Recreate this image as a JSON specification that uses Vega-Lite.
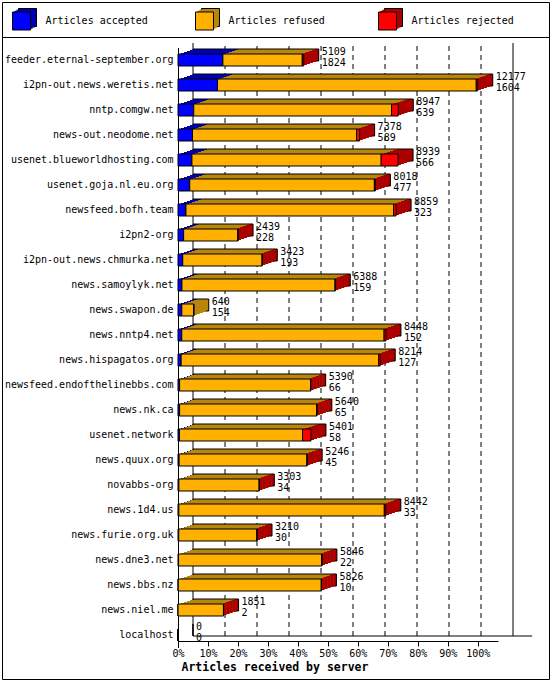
{
  "$schema": "https://vega.github.io/schema/vega-lite/v6.json",
  "padding": 1,
  "spacing": 0,
  "bounds": "flush",
  "background": "white",
  "config": {
    "font": "DejaVu Sans Mono",
    "view": {"stroke": "black", "strokeWidth": 1},
    "axis": {"grid": false, "domainColor": "black", "tickColor": "black", "labelColor": "black", "titleColor": "black"},
    "legend": {"disable": true}
  },
  "datasets": {
    "servers": [
      {"server": "feeder.eternal-september.org", "total": 5109, "accepted": 1824, "refused": 3225, "rejected": 60},
      {"server": "i2pn-out.news.weretis.net", "total": 12177, "accepted": 1604, "refused": 10513, "rejected": 60},
      {"server": "nntp.comgw.net", "total": 8947, "accepted": 639, "refused": 8038, "rejected": 270},
      {"server": "news-out.neodome.net", "total": 7378, "accepted": 589, "refused": 6664, "rejected": 125},
      {"server": "usenet.blueworldhosting.com", "total": 8939, "accepted": 566, "refused": 7688, "rejected": 685},
      {"server": "usenet.goja.nl.eu.org", "total": 8018, "accepted": 477, "refused": 7501, "rejected": 40},
      {"server": "newsfeed.bofh.team", "total": 8859, "accepted": 323, "refused": 8436, "rejected": 100},
      {"server": "i2pn2-org", "total": 2439, "accepted": 228, "refused": 2206, "rejected": 5},
      {"server": "i2pn-out.news.chmurka.net", "total": 3423, "accepted": 193, "refused": 3225, "rejected": 5},
      {"server": "news.samoylyk.net", "total": 6388, "accepted": 159, "refused": 6224, "rejected": 5},
      {"server": "news.swapon.de", "total": 640, "accepted": 154, "refused": 486, "rejected": 0},
      {"server": "news.nntp4.net", "total": 8448, "accepted": 152, "refused": 8221, "rejected": 75},
      {"server": "news.hispagatos.org", "total": 8214, "accepted": 127, "refused": 8027, "rejected": 60},
      {"server": "newsfeed.endofthelinebbs.com", "total": 5390, "accepted": 66, "refused": 5319, "rejected": 5},
      {"server": "news.nk.ca", "total": 5640, "accepted": 65, "refused": 5570, "rejected": 5},
      {"server": "usenet.network", "total": 5401, "accepted": 58, "refused": 5003, "rejected": 340},
      {"server": "news.quux.org", "total": 5246, "accepted": 45, "refused": 5196, "rejected": 5},
      {"server": "novabbs-org", "total": 3303, "accepted": 34, "refused": 3264, "rejected": 5},
      {"server": "news.1d4.us", "total": 8442, "accepted": 33, "refused": 8349, "rejected": 60},
      {"server": "news.furie.org.uk", "total": 3210, "accepted": 30, "refused": 3175, "rejected": 5},
      {"server": "news.dne3.net", "total": 5846, "accepted": 22, "refused": 5819, "rejected": 5},
      {"server": "news.bbs.nz", "total": 5826, "accepted": 10, "refused": 5811, "rejected": 5},
      {"server": "news.niel.me", "total": 1851, "accepted": 2, "refused": 1844, "rejected": 5},
      {"server": "localhost", "total": 0, "accepted": 0, "refused": 0, "rejected": 0}
    ],
    "grid": [
      {"p": 0}, {"p": 10}, {"p": 20}, {"p": 30}, {"p": 40}, {"p": 50},
      {"p": 60}, {"p": 70}, {"p": 80}, {"p": 90}, {"p": 100}
    ],
    "kinds": [
      {"kind": "accepted", "label": "Articles accepted"},
      {"kind": "refused", "label": "Articles refused"},
      {"kind": "rejected", "label": "Articles rejected"}
    ]
  },
  "vconcat": [
    {
      "width": 547,
      "height": 35,
      "data": {"name": "kinds"},
      "encoding": {
        "x": {
          "field": "kind", "type": "nominal", "bandPosition": 0,
          "scale": {"type": "band", "domain": ["accepted", "refused", "rejected"], "range": [9.5, 558.5], "paddingInner": 0, "paddingOuter": 0},
          "axis": null
        }
      },
      "layer": [
        {
          "mark": {"type": "square", "size": 324, "filled": true, "opacity": 1, "xOffset": 16, "yOffset": -2, "stroke": "black", "strokeWidth": 1},
          "encoding": {"fill": {"field": "kind", "type": "nominal", "scale": {"domain": ["accepted", "refused", "rejected"], "range": ["#0000b0", "#b8860b", "#aa0000"]}, "legend": null}}
        },
        {
          "mark": {"type": "square", "size": 324, "filled": true, "opacity": 1, "xOffset": 14, "yOffset": -0.8, "strokeWidth": 0},
          "encoding": {"fill": {"field": "kind", "type": "nominal", "legend": null}}
        },
        {
          "mark": {"type": "square", "size": 324, "filled": true, "opacity": 1, "xOffset": 12, "yOffset": 0.3, "strokeWidth": 0},
          "encoding": {"fill": {"field": "kind", "type": "nominal", "legend": null}}
        },
        {
          "mark": {"type": "square", "size": 324, "filled": true, "opacity": 1, "xOffset": 10, "yOffset": 1.5, "stroke": "black", "strokeWidth": 1},
          "encoding": {"color": {"field": "kind", "type": "nominal", "scale": {"domain": ["accepted", "refused", "rejected"], "range": ["#0000ff", "#ffb000", "#ff0000"]}, "legend": null}}
        },
        {
          "mark": {"type": "text", "align": "left", "baseline": "middle", "xOffset": 34, "yOffset": 1.5, "fontSize": 10, "color": "black"},
          "encoding": {"text": {"field": "label", "type": "nominal"}}
        }
      ]
    },
    {
      "width": 547,
      "height": 642,
      "resolve": {"scale": {"x": "independent", "y": "independent"}},
      "layer": [
        {
          "data": {"name": "grid"},
          "encoding": {
            "y": {"datum": 0, "type": "quantitative", "scale": {"domain": [0, 1], "range": [599, 6]}, "axis": null}
          },
          "layer": [
            {
              "transform": [{"filter": "datum.p > 0 && datum.p < 100"}],
              "mark": {"type": "rule", "color": "black", "strokeWidth": 1, "strokeDash": [5, 4]},
              "encoding": {
                "x": {"field": "p", "type": "quantitative", "scale": {"domain": [0, 100], "range": [191, 511]}, "axis": null},
                "y2": {"datum": 1}
              }
            },
            {
              "transform": [{"filter": "datum.p == 0 || datum.p == 100"}],
              "mark": {"type": "rule", "color": "black", "strokeWidth": 1},
              "encoding": {
                "x": {"field": "p", "type": "quantitative", "scale": {"domain": [0, 100], "range": [191, 511]}, "axis": null},
                "y2": {"datum": 1}
              }
            },
            {
              "transform": [{"filter": "datum.p == 0"}],
              "mark": {"type": "rule", "color": "black", "strokeWidth": 1},
              "encoding": {
                "x": {"field": "p", "type": "quantitative", "scale": {"domain": [0, 100], "range": [191, 511]}, "axis": null},
                "x2": {"datum": 106}
              }
            }
          ]
        },
        {
          "data": {"name": "servers"},
          "transform": [{"fold": ["accepted", "refused", "rejected"], "as": ["kind", "n"]}],
          "encoding": {
            "y": {
              "field": "server", "type": "nominal",
              "scale": {
                "domain": [
                  "feeder.eternal-september.org", "i2pn-out.news.weretis.net", "nntp.comgw.net", "news-out.neodome.net",
                  "usenet.blueworldhosting.com", "usenet.goja.nl.eu.org", "newsfeed.bofh.team", "i2pn2-org",
                  "i2pn-out.news.chmurka.net", "news.samoylyk.net", "news.swapon.de", "news.nntp4.net",
                  "news.hispagatos.org", "newsfeed.endofthelinebbs.com", "news.nk.ca", "usenet.network",
                  "news.quux.org", "novabbs-org", "news.1d4.us", "news.furie.org.uk",
                  "news.dne3.net", "news.bbs.nz", "news.niel.me", "localhost"
                ],
                "range": [10.5, 610.5], "paddingInner": 0.52, "paddingOuter": 0.26
              },
              "axis": {"title": null, "offset": -176, "ticks": false, "labelPadding": 5, "labelFontSize": 10, "labelLimit": 200}
            }
          },
          "layer": [
            {
              "mark": {"type": "bar", "xOffset": 15, "yOffset": -5},
              "encoding": {
                "x": {"field": "n", "type": "quantitative", "stack": "zero", "scale": {"domain": [0, 12177], "range": [176, 496]}},
                "fill": {"field": "kind", "type": "nominal", "scale": {"domain": ["accepted", "refused", "rejected"], "range": ["#0000b0", "#b8860b", "#aa0000"]}, "legend": null}
              }
            },
            {
              "transform": [{"filter": "datum.kind == 'rejected'"}],
              "mark": {"type": "bar", "xOffset": 11, "x2Offset": 15, "yOffset": -5},
              "encoding": {
                "x": {"field": "total", "type": "quantitative"},
                "x2": {"field": "total"},
                "fill": {"condition": [{"test": "datum.total == 0", "value": "transparent"}, {"test": "datum.rejected > 0", "value": "#aa0000"}], "value": "#b8860b"}
              }
            },
            {
              "transform": [{"filter": "datum.kind == 'rejected'"}],
              "mark": {"type": "bar", "xOffset": 15, "yOffset": -5, "fillOpacity": 0, "stroke": "black", "strokeWidth": 1},
              "encoding": {
                "x": {"field": "total", "type": "quantitative"}
              }
            },
            {
              "mark": {"type": "bar", "xOffset": 12, "yOffset": -4},
              "encoding": {
                "x": {"field": "n", "type": "quantitative", "stack": "zero"},
                "fill": {"field": "kind", "type": "nominal", "legend": null}
              }
            },
            {
              "transform": [{"filter": "datum.kind == 'rejected'"}],
              "mark": {"type": "bar", "xOffset": 8, "x2Offset": 12, "yOffset": -4},
              "encoding": {
                "x": {"field": "total", "type": "quantitative"},
                "x2": {"field": "total"},
                "fill": {"condition": [{"test": "datum.total == 0", "value": "transparent"}, {"test": "datum.rejected > 0", "value": "#aa0000"}], "value": "#b8860b"}
              }
            },
            {
              "mark": {"type": "bar", "xOffset": 9, "yOffset": -3},
              "encoding": {
                "x": {"field": "n", "type": "quantitative", "stack": "zero"},
                "fill": {"field": "kind", "type": "nominal", "legend": null}
              }
            },
            {
              "transform": [{"filter": "datum.kind == 'rejected'"}],
              "mark": {"type": "bar", "xOffset": 5, "x2Offset": 9, "yOffset": -3},
              "encoding": {
                "x": {"field": "total", "type": "quantitative"},
                "x2": {"field": "total"},
                "fill": {"condition": [{"test": "datum.total == 0", "value": "transparent"}, {"test": "datum.rejected > 0", "value": "#aa0000"}], "value": "#b8860b"}
              }
            },
            {
              "mark": {"type": "bar", "xOffset": 6, "yOffset": -2},
              "encoding": {
                "x": {"field": "n", "type": "quantitative", "stack": "zero"},
                "fill": {"field": "kind", "type": "nominal", "legend": null}
              }
            },
            {
              "transform": [{"filter": "datum.kind == 'rejected'"}],
              "mark": {"type": "bar", "xOffset": 2, "x2Offset": 6, "yOffset": -2},
              "encoding": {
                "x": {"field": "total", "type": "quantitative"},
                "x2": {"field": "total"},
                "fill": {"condition": [{"test": "datum.total == 0", "value": "transparent"}, {"test": "datum.rejected > 0", "value": "#aa0000"}], "value": "#b8860b"}
              }
            },
            {
              "mark": {"type": "bar", "xOffset": 3, "yOffset": -1},
              "encoding": {
                "x": {"field": "n", "type": "quantitative", "stack": "zero"},
                "fill": {"field": "kind", "type": "nominal", "legend": null}
              }
            },
            {
              "transform": [{"filter": "datum.kind == 'rejected'"}],
              "mark": {"type": "bar", "xOffset": 0, "x2Offset": 3, "yOffset": -1},
              "encoding": {
                "x": {"field": "total", "type": "quantitative"},
                "x2": {"field": "total"},
                "fill": {"condition": [{"test": "datum.total == 0", "value": "transparent"}, {"test": "datum.rejected > 0", "value": "#aa0000"}], "value": "#b8860b"}
              }
            },
            {
              "mark": {"type": "bar", "stroke": "black", "strokeWidth": 1},
              "encoding": {
                "x": {
                  "field": "n", "type": "quantitative", "stack": "zero",
                  "axis": {
                    "title": "Articles received by server",
                    "values": [0, 1217.7, 2435.4, 3653.1, 4870.8, 6088.5, 7306.2, 8523.9, 9741.6, 10959.3, 12177],
                    "labelExpr": "round(datum.value / 121.77) + '%'",
                    "offset": -38, "tickSize": 5, "labelPadding": 2, "labelFontSize": 10,
                    "labelFlush": false, "labelOverlap": false,
                    "titleFontSize": 11.5, "titleFontWeight": "bold",
                    "titleX": 179, "titleY": 26, "titleAlign": "left", "titleBaseline": "middle"
                  }
                },
                "color": {"field": "kind", "type": "nominal", "scale": {"domain": ["accepted", "refused", "rejected"], "range": ["#0000ff", "#ffb000", "#ff0000"]}, "legend": null}
              }
            },
            {
              "transform": [{"filter": "datum.kind == 'rejected'"}],
              "mark": {"type": "text", "align": "left", "baseline": "middle", "dx": 18, "dy": -8.5, "fontSize": 10, "color": "black"},
              "encoding": {
                "x": {"field": "total", "type": "quantitative"},
                "text": {"field": "total", "type": "quantitative", "format": "d"}
              }
            },
            {
              "transform": [{"filter": "datum.kind == 'rejected'"}],
              "mark": {"type": "text", "align": "left", "baseline": "middle", "dx": 18, "dy": 2.5, "fontSize": 10, "color": "black"},
              "encoding": {
                "x": {"field": "total", "type": "quantitative"},
                "text": {"field": "accepted", "type": "quantitative", "format": "d"}
              }
            }
          ]
        }
      ]
    }
  ]
}
